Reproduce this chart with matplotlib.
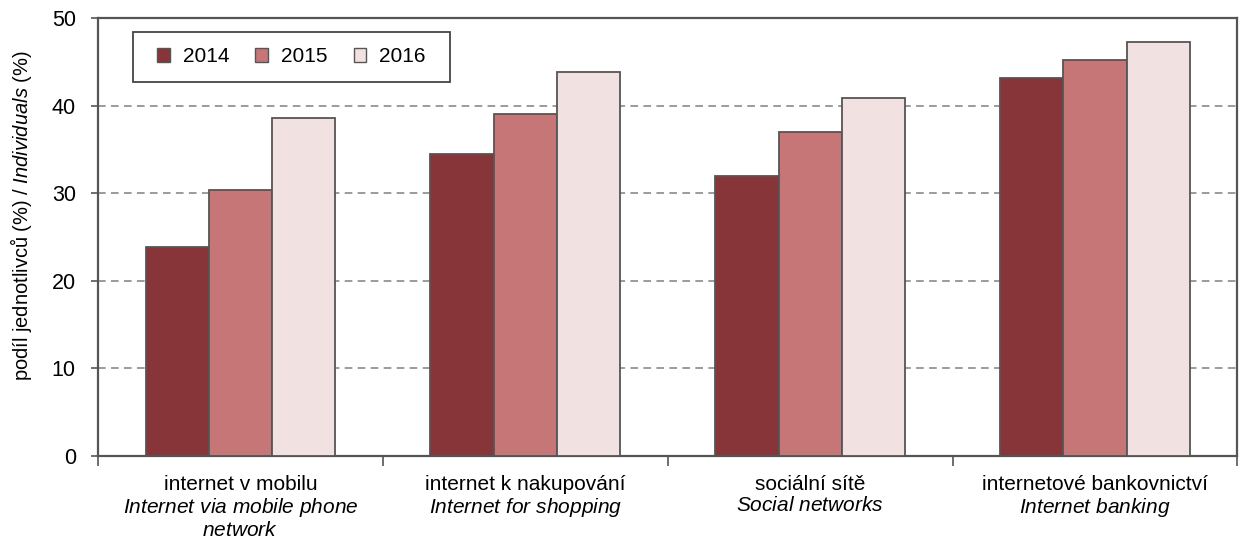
import numpy as np
import matplotlib.pyplot as plt
from matplotlib.patches import Patch, Rectangle

# data
roky = ['2014', '2015', '2016']
kategorie_cz = ['internet v mobilu', 'internet k nakupování', 'sociální sítě', 'internetové bankovnictví']
kategorie_en = [['Internet via mobile phone', 'network'], ['Internet for shopping'],
                ['Social networks'], ['Internet banking']]
hodnoty_2014 = [23.9, 34.5, 32.0, 43.2]
hodnoty_2015 = [30.4, 39.0, 37.0, 45.2]
hodnoty_2016 = [38.6, 43.8, 40.9, 47.3]
barvy = ['#873538', '#C67677', '#F2E1E1']

plt.rcParams['font.family'] = ['Liberation Sans', 'DejaVu Sans']
plt.rcParams['mathtext.fontset'] = 'custom'
plt.rcParams['mathtext.it'] = 'Liberation Sans:italic'
plt.rcParams['mathtext.rm'] = 'Liberation Sans'


def it(s):
    return '$\\mathit{' + s.replace(' ', '\\ ').replace('%', '\\%') + '}$'


fig = plt.figure(figsize=(12.39, 5.4), dpi=100)
ax = fig.add_axes([0.0791, 0.1556, 0.9196, 0.8111])

x = np.arange(len(kategorie_cz))
w = 0.222
for i, (vals, c) in enumerate(zip([hodnoty_2014, hodnoty_2015, hodnoty_2016], barvy)):
    ax.bar(x + (i - 1) * w, vals, width=w, color=c, edgecolor='#555555', linewidth=1.3,
           label=roky[i], zorder=3)

ax.set_xlim(-0.5, len(kategorie_cz) - 0.5)
ax.set_ylim(0, 50)
ax.set_yticks([0, 10, 20, 30, 40, 50])
ax.yaxis.grid(True, linestyle=(0, (5, 3.5)), color='#808080', linewidth=1.1, zorder=0)

labels = []
for cz, en in zip(kategorie_cz, kategorie_en):
    labels.append('\n'.join([cz] + [it(s) for s in en]))
ax.set_xticks(x)
ax.set_xticklabels(labels, fontsize=15, linespacing=1.12)
ax.set_xticks(np.arange(len(kategorie_cz) + 1) - 0.5, minor=True)
ax.tick_params(axis='x', which='major', length=0, pad=14)
ax.tick_params(axis='x', which='minor', length=7, width=1.2, color='#555555')
ax.tick_params(axis='y', length=5, width=1.2, color='#555555', labelsize=15.5, pad=11)

for s in ax.spines.values():
    s.set_color('#555555')
    s.set_linewidth(1.6)

ax.set_ylabel('podíl jednotlivců (%) / ' + it('Individuals (%)'), fontsize=14.5)
ax.yaxis.set_label_coords(-0.056, 0.548)

# legenda s rámečkem
ax.add_patch(Rectangle((0.0307, 0.854), 0.278, 0.114, transform=ax.transAxes,
                       facecolor='white', edgecolor='#444444', linewidth=1.3, zorder=5))
handles = [Patch(facecolor=c, edgecolor='#555555', label=r) for c, r in zip(barvy, roky)]
leg = ax.legend(handles=handles, ncol=3, loc='center', bbox_to_anchor=(0.1697, 0.911),
                fontsize=15, frameon=False, handlelength=0.62, handleheight=0.62,
                columnspacing=1.25, handletextpad=0.62, borderpad=0.2)
leg.set_zorder(6)

plt.savefig('out.png', dpi=100)
